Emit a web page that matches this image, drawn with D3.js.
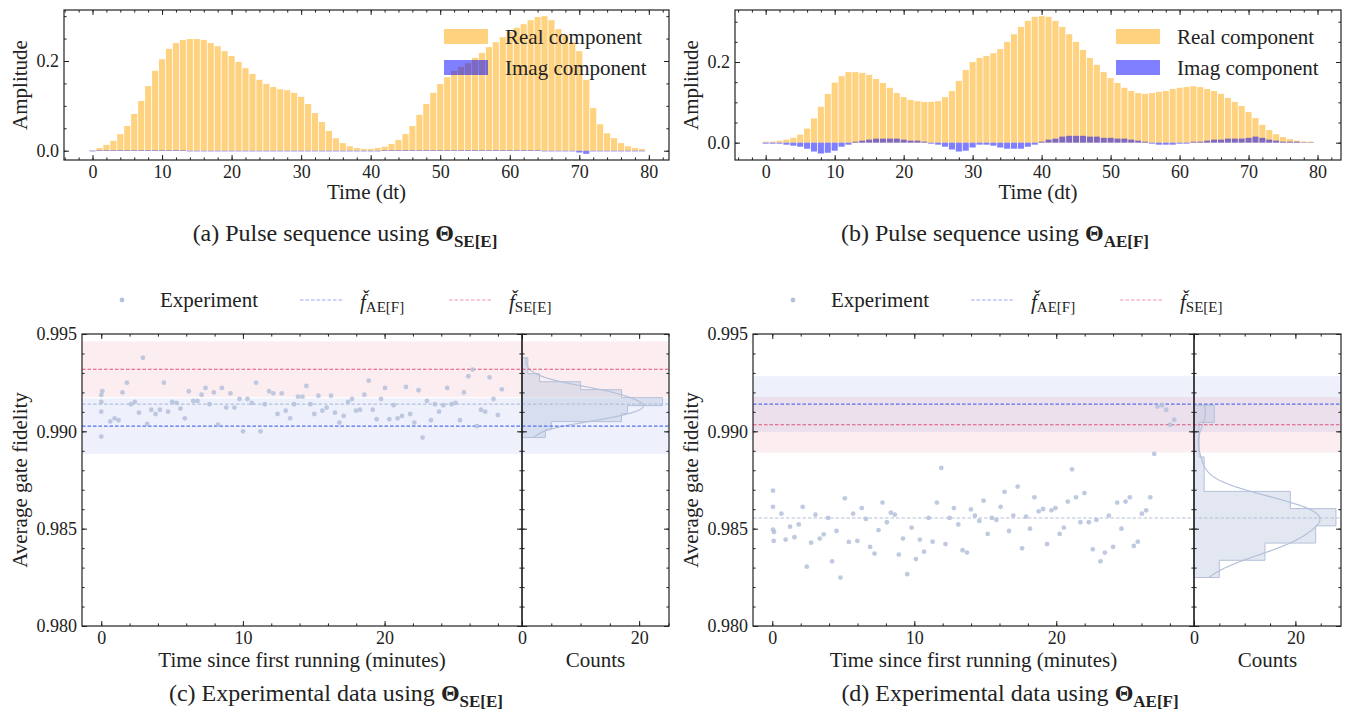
<!DOCTYPE html>
<html>
<head>
<meta charset="utf-8">
<script src="https://cdn.jsdelivr.net/npm/d3@7"></script>
<style>
  body { margin: 0; background: #fff; }
  svg text { font-family: "Liberation Serif", "DejaVu Serif", serif; fill: #222; }
</style>
</head>
<body>
<div id="chart"></div>
<script>
// ---- pulse sequences (amplitude per time step dt) ----
const steps = d3.range(80);

const realA = [0.0015, 0.006, 0.013, 0.022, 0.037, 0.055, 0.082, 0.111, 0.144, 0.178,
  0.204, 0.227, 0.240, 0.247, 0.249, 0.249, 0.247, 0.240, 0.233, 0.222,
  0.211, 0.198, 0.184, 0.171, 0.158, 0.149, 0.142, 0.137, 0.135, 0.129,
  0.120, 0.104, 0.084, 0.064, 0.044, 0.028, 0.017, 0.010, 0.006, 0.004,
  0.004, 0.006, 0.009, 0.015, 0.024, 0.037, 0.055, 0.080, 0.104, 0.129,
  0.149, 0.164, 0.178, 0.187, 0.195, 0.207, 0.218, 0.231, 0.242, 0.253,
  0.265, 0.274, 0.282, 0.291, 0.298, 0.300, 0.291, 0.271, 0.258, 0.242,
  0.222, 0.158, 0.095, 0.059, 0.039, 0.028, 0.017, 0.010, 0.006, 0.004];

const imagA = [-0.0015, 0.0015, 0.0015, 0.0015, 0.0015, 0.0015, 0.0015, 0.0015, 0.0015, 0.0015,
  0.0015, 0.0015, 0.0015, 0.0015, -0.0015, -0.0015, -0.0015, -0.0015, -0.0015, -0.0015,
  -0.0015, -0.0015, -0.0015, -0.0015, -0.0015, -0.0015, -0.0015, -0.0015, -0.0015, -0.0015,
  -0.0015, -0.0015, -0.0015, -0.0015, -0.0015, -0.0015, -0.0015, -0.0015, -0.0015, -0.0015,
  -0.0015, -0.0015, 0.0015, 0.0015, 0.0015, 0.0015, 0.0015, 0.0015, 0.0015, 0.0015,
  0.0015, 0.0015, 0.0015, 0.0015, 0.0015, 0.0015, 0.0015, 0.0015, 0.0015, 0.0015,
  0.0015, 0.0015, 0.0015, 0.0015, 0.0015, -0.0015, -0.0015, -0.0015, -0.0015, -0.0015,
  -0.004, -0.007, -0.0015, -0.0015, -0.0015, -0.0015, -0.0015, -0.0015, -0.0015, -0.0015];

const realB = [0.0025, 0.0025, 0.005, 0.0075, 0.012, 0.020, 0.035, 0.060, 0.089, 0.121,
  0.149, 0.165, 0.175, 0.175, 0.173, 0.168, 0.158, 0.148, 0.136, 0.123,
  0.113, 0.106, 0.103, 0.101, 0.101, 0.103, 0.113, 0.128, 0.153, 0.180,
  0.200, 0.210, 0.215, 0.222, 0.232, 0.250, 0.269, 0.287, 0.302, 0.312,
  0.314, 0.312, 0.302, 0.287, 0.269, 0.250, 0.230, 0.210, 0.193, 0.175,
  0.160, 0.148, 0.136, 0.128, 0.123, 0.121, 0.123, 0.126, 0.128, 0.133,
  0.136, 0.138, 0.140, 0.138, 0.133, 0.128, 0.121, 0.111, 0.101, 0.091,
  0.076, 0.061, 0.044, 0.031, 0.021, 0.014, 0.009, 0.005, 0.003, 0.0025];

const imagB = [-0.0025, -0.0025, -0.0025, -0.005, -0.0075, -0.010, -0.015, -0.022, -0.027, -0.025,
  -0.020, -0.010, -0.005, 0.0025, 0.005, 0.0075, 0.010, 0.010, 0.010, 0.010,
  0.0075, 0.005, 0.005, 0.0025, -0.0025, -0.005, -0.010, -0.017, -0.022, -0.020,
  -0.012, -0.005, -0.005, -0.0075, -0.012, -0.015, -0.015, -0.015, -0.010, -0.005,
  0.0025, 0.0075, 0.010, 0.015, 0.017, 0.017, 0.017, 0.015, 0.015, 0.012,
  0.012, 0.010, 0.010, 0.0075, 0.005, 0.0025, -0.0025, -0.005, -0.005, -0.005,
  -0.0025, -0.0025, 0.0025, 0.0025, 0.005, 0.0075, 0.0075, 0.010, 0.010, 0.010,
  0.012, 0.015, 0.012, 0.0075, 0.005, 0.0025, 0.0025, 0.0025, 0.001, 0.001];

// ---- experiment runs (minutes, average gate fidelity) ----
const timeC = [0, 0.07, 0, 0, 0, 0.63, 0.94, 1.22, 1.50, 1.81, 2.09, 2.37, 2.66, 2.94, 3.24,
  3.53, 3.83, 4.14, 4.42, 4.72, 5.01, 5.31, 5.59, 5.90, 6.18, 6.49, 6.79, 7.08, 7.36, 7.64,
  7.95, 8.23, 8.51, 8.82, 9.12, 9.40, 9.76, 10.01, 10.32, 10.63, 10.93, 11.24, 11.54, 11.85, 12.15,
  12.44, 12.74, 13.02, 13.33, 13.61, 13.89, 14.20, 14.48, 14.76, 15.04, 15.33, 15.61, 15.91, 16.22, 16.50,
  16.81, 17.11, 17.42, 17.70, 17.98, 18.27, 18.57, 18.88, 19.16, 19.44, 19.75, 20.03, 20.33, 20.64, 20.92,
  21.23, 21.51, 21.81, 22.10, 22.40, 22.68, 22.99, 23.27, 23.55, 23.84, 24.14, 24.42, 24.73, 25.01, 25.32,
  25.60, 25.91, 26.21, 26.52, 26.80, 27.10, 27.41, 27.69, 28.00, 28.28];
const fidC = [0.99187, 0.99206, 0.99151, 0.99101, 0.98973,
  0.99051, 0.99067, 0.99057, 0.99200, 0.99250, 0.99139, 0.99151, 0.99096, 0.99378, 0.99038,
  0.99111, 0.99089, 0.99111, 0.99250, 0.99101, 0.99151, 0.99146, 0.99117, 0.99067, 0.99206,
  0.99156, 0.99156, 0.99188, 0.99223, 0.99139, 0.99200, 0.99034, 0.99223, 0.99122, 0.99195,
  0.99122, 0.99166, 0.99000, 0.99166, 0.99146, 0.99250, 0.99000, 0.99139, 0.99206, 0.99195,
  0.99089, 0.99195, 0.99106, 0.99067, 0.99139, 0.99178, 0.99178, 0.99233, 0.99139, 0.99089,
  0.99183, 0.99106, 0.99122, 0.99183, 0.99096, 0.99045, 0.99079, 0.99151, 0.99166, 0.99106,
  0.99111, 0.99188, 0.99260, 0.99111, 0.99062, 0.99166, 0.99223, 0.99062, 0.99134, 0.99067,
  0.99079, 0.99228, 0.99089, 0.99045, 0.99211, 0.98968, 0.99156, 0.99057, 0.99139, 0.99101,
  0.99134, 0.99223, 0.99139, 0.99146, 0.99057, 0.99200, 0.99283, 0.99317, 0.99027, 0.99111,
  0.99101, 0.99277, 0.99166, 0.99084, 0.99216];

const timeD = [0.05, 0.05, 0.05, 0.12, 0.10, 0.64, 0.94, 1.25, 1.56, 1.86,
  2.14, 2.43, 2.73, 3.04, 3.34, 3.62, 3.93, 4.21, 4.52, 4.80,
  5.11, 5.39, 5.69, 5.99, 6.30, 6.59, 6.89, 7.20, 7.48, 7.76,
  8.07, 8.35, 8.63, 8.91, 9.20, 9.50, 9.81, 10.11, 10.39, 10.69,
  11.01, 11.29, 11.59, 11.90, 12.20, 12.49, 12.79, 13.10, 13.40, 13.71,
  13.99, 14.27, 14.58, 14.88, 15.17, 15.47, 15.78, 16.08, 16.36, 16.67,
  16.97, 17.28, 17.59, 17.87, 18.15, 18.46, 18.76, 19.07, 19.35, 19.66,
  19.94, 20.24, 20.53, 20.81, 21.11, 21.39, 21.70, 21.98, 22.29, 22.57,
  22.83, 23.11, 23.42, 23.70, 24.00, 24.29, 24.59, 24.88, 25.18, 25.46,
  25.74, 26.03, 26.33, 26.62, 26.90, 27.13, 27.44, 27.74, 28.02, 28.31];
const fidD = [0.98695, 0.98612, 0.98495, 0.98483, 0.98437, 0.98577, 0.98444, 0.98510, 0.98456, 0.98522,
  0.98612, 0.98305, 0.98428, 0.98572, 0.98449, 0.98471, 0.98555, 0.98332, 0.98488, 0.98249,
  0.98656, 0.98432, 0.98577, 0.98437, 0.98606, 0.98550, 0.98406, 0.98372, 0.98493, 0.98634,
  0.98533, 0.98582, 0.98572, 0.98367, 0.98449, 0.98266, 0.98505, 0.98344, 0.98444, 0.98382,
  0.98555, 0.98433, 0.98634, 0.98812, 0.98421, 0.98555, 0.98606, 0.98522, 0.98389, 0.98377,
  0.98599, 0.98567, 0.98540, 0.98644, 0.98473, 0.98555, 0.98545, 0.98612, 0.98689, 0.98488,
  0.98567, 0.98716, 0.98399, 0.98562, 0.98500, 0.98661, 0.98589, 0.98601, 0.98421, 0.98594,
  0.98606, 0.98473, 0.98505, 0.98639, 0.98805, 0.98661, 0.98533, 0.98683, 0.98533, 0.98394,
  0.98545, 0.98332, 0.98377, 0.98567, 0.98406, 0.98634, 0.98500, 0.98639, 0.98661, 0.98411,
  0.98433, 0.98577, 0.98594, 0.98661, 0.98884, 0.99127, 0.99134, 0.99111, 0.99034, 0.99060];

// histogram counts, 10 equal bins from lowest to highest fidelity
const histC = [4, 5, 17, 18, 24, 17, 10, 3, 1, 1];
const histD = [5, 14, 24, 28, 19, 2, 2, 1, 1, 4];

// predicted fidelities (dashed) and their uncertainty band half width
const aeC = 0.99027, seC = 0.99319, meanC = 0.99140;
const aeD = 0.99140, seD = 0.99034, meanD = 0.98555;
const bandHalf = 0.00143;

// ---- drawing ----
const W = 1346, H = 711;
const INK = "#222";
const ORANGE = "#ffa500", BLUE = "#0000ff";
const PT = "#b4c1da";
const AE_COL = "#5470f0", SE_COL = "#e2507a";
const WORD = 21;
const svg = d3.select("#chart").append("svg").attr("width", W).attr("height", H);

function axis(g, orient, scale, pos, major, minor, fmt) {
  const gen = { bottom: d3.axisBottom, top: d3.axisTop, left: d3.axisLeft, right: d3.axisRight }[orient];
  const tr = (orient === "bottom" || orient === "top") ? `translate(0,${pos})` : `translate(${pos},0)`;
  const mi = g.append("g").attr("transform", tr)
    .call(gen(scale).tickValues(minor).tickSize(-2.6).tickFormat(""));
  mi.select(".domain").remove();
  const ma = g.append("g").attr("transform", tr)
    .call(gen(scale).tickValues(major).tickSize(-5).tickPadding(5).tickFormat(fmt || ""));
  ma.select(".domain").remove();
  [mi, ma].forEach(s => s.attr("font-size", 18).attr("font-family", null).attr("color", INK));
  ma.selectAll("text").attr("fill", INK);
}

function frame(g, x0, x1, y0, y1) {
  g.append("rect").attr("x", x0).attr("y", y0).attr("width", x1 - x0).attr("height", y1 - y0)
    .attr("fill", "none").attr("stroke", INK).attr("stroke-width", 1.2);
}

function label(txt, x, y, rot) {
  return svg.append("text").attr("x", x).attr("y", y).attr("text-anchor", "middle")
    .attr("dominant-baseline", "central").attr("font-size", WORD)
    .attr("transform", rot ? `rotate(-90,${x},${y})` : null).text(txt);
}

function caption(prefix, sub, x, y) {
  const t = svg.append("text").attr("x", x).attr("y", y).attr("text-anchor", "middle").attr("font-size", 24);
  t.append("tspan").text(prefix);
  t.append("tspan").attr("font-weight", "bold").text("\u0398");
  t.append("tspan").attr("font-weight", "bold").attr("font-size", 17).attr("dy", 6).text(sub);
}

function pulsePanel(box, real, imag, xDom, yDom, legX) {
  const g = svg.append("g");
  const x = d3.scaleLinear().domain(xDom).range([box.l, box.r]);
  const y = d3.scaleLinear().domain(yDom).range([box.b, box.t]);
  const bw = x(0.88) - x(0);

  [[real, ORANGE], [imag, BLUE]].forEach(([vals, col]) => {
    g.append("g").selectAll("rect").data(vals).join("rect")
      .attr("x", (d, i) => x(steps[i]) - bw / 2).attr("width", bw)
      .attr("y", d => y(Math.max(0, d))).attr("height", d => Math.abs(y(d) - y(0)))
      .attr("fill", col).attr("fill-opacity", 0.5);
  });

  const xMaj = [0, 10, 20, 30, 40, 50, 60, 70, 80];
  const xMin = d3.range(-4, 84, 2);
  const yMaj = [0, 0.2];
  const yMin = [0, 0.05, 0.1, 0.15, 0.2, 0.25, 0.3];
  axis(g, "bottom", x, box.b, xMaj, xMin, d3.format("d"));
  axis(g, "top", x, box.t, xMaj, xMin, null);
  axis(g, "left", y, box.l, yMaj, yMin, d3.format(".1f"));
  axis(g, "right", y, box.r, yMaj, yMin, null);
  frame(g, box.l, box.r, box.t, box.b);

  // legend
  [["Real component", ORANGE, 29], ["Imag component", BLUE, 60]].forEach(([txt, col, yy]) => {
    g.append("rect").attr("x", legX).attr("y", yy).attr("width", 44).attr("height", 15)
      .attr("fill", col).attr("fill-opacity", 0.5);
    g.append("text").attr("x", legX + 61).attr("y", yy + 8).attr("dominant-baseline", "central")
      .attr("font-size", WORD).text(txt);
  });

  label("Amplitude", box.l - 44, (box.t + box.b) / 2, true);
  label("Time (dt)", (box.l + box.r) / 2, 192);
}

function fcheck(t, sub) {
  t.append("tspan").attr("font-style", "italic").text("f\u030C");
  t.append("tspan").attr("font-size", 15).attr("dy", 5).text(sub);
}

function fidelityPanel(box, times, fids, counts, ae, se, mean, hMax) {
  const g = svg.append("g");
  const x = d3.scaleLinear().domain([-1.36, 29.7]).range([box.l, box.m]);
  const y = d3.scaleLinear().domain([0.980, 0.995]).range([box.b, box.t]);
  const hx = d3.scaleLinear().domain([0, hMax]).range([box.m, box.r]);

  // uncertainty bands across both panes
  [[ae, "#4169e1", 0.09], [se, "#dc143c", 0.08]].forEach(([c, col, op]) => {
    g.append("rect").attr("x", box.l).attr("width", box.r - box.l)
      .attr("y", y(c + bandHalf)).attr("height", y(c - bandHalf) - y(c + bandHalf))
      .attr("fill", col).attr("fill-opacity", op);
  });

  // histogram as a filled step outline
  const [lo, hi] = d3.extent(fids);
  const binW = (hi - lo) / counts.length;
  const stepPts = [[0, lo]];
  counts.forEach((c, i) => { stepPts.push([c, lo + i * binW], [c, lo + (i + 1) * binW]); });
  stepPts.push([0, hi]);
  g.append("path").attr("d", d3.line().x(d => hx(d[0])).y(d => y(d[1]))(stepPts) + "Z")
    .attr("fill", PT).attr("fill-opacity", 0.38).attr("stroke", PT).attr("stroke-width", 1);

  // kernel density (Scott bandwidth) scaled to counts
  const bw = d3.deviation(fids) * Math.pow(fids.length, -0.2);
  const kde = d3.range(201).map(i => {
    const v = lo + (hi - lo) * i / 200;
    const dens = d3.mean(fids, u => Math.exp(-0.5 * ((v - u) / bw) ** 2)) / (bw * Math.sqrt(2 * Math.PI));
    return [dens * fids.length * binW, v];
  });
  g.append("path").attr("d", d3.line().x(d => hx(d[0])).y(d => y(d[1]))(kde))
    .attr("fill", "none").attr("stroke", PT).attr("stroke-width", 1.2);

  // dashed reference lines
  [[ae, AE_COL], [se, SE_COL], [mean, PT]].forEach(([c, col]) => {
    g.append("line").attr("x1", box.l).attr("x2", box.r).attr("y1", y(c)).attr("y2", y(c))
      .attr("stroke", col).attr("stroke-width", 1.1).attr("stroke-dasharray", "3.5,2");
  });

  // scatter
  g.append("g").selectAll("circle").data(fids).join("circle")
    .attr("cx", (d, i) => x(times[i])).attr("cy", d => y(d)).attr("r", 2.4)
    .attr("fill", PT).attr("fill-opacity", 0.85);

  const yMaj = [0.980, 0.985, 0.990, 0.995];
  const yMin = d3.range(0, 16).map(i => 0.980 + i * 0.001);
  const xMaj = [0, 10, 20];
  const xMin = d3.range(0, 30, 2);
  axis(g, "bottom", x, box.b, xMaj, xMin, d3.format("d"));
  axis(g, "top", x, box.t, xMaj, xMin, null);
  axis(g, "left", y, box.l, yMaj, yMin, d3.format(".3f"));
  axis(g, "right", y, box.m, yMaj, yMin, null);
  const hMaj = [0, 20], hMin = d3.range(0, hMax, 5);
  axis(g, "bottom", hx, box.b, hMaj, hMin, d3.format("d"));
  axis(g, "top", hx, box.t, hMaj, hMin, null);
  axis(g, "left", y, box.m, yMaj, yMin, null);
  axis(g, "right", y, box.r, yMaj, yMin, null);
  frame(g, box.l, box.m, box.t, box.b);
  frame(g, box.m, box.r, box.t, box.b);

  // legend above
  const ly = 300, lx = box.l + 40;
  g.append("circle").attr("cx", lx).attr("cy", ly).attr("r", 2.4).attr("fill", PT);
  g.append("text").attr("x", lx + 38).attr("y", ly).attr("dominant-baseline", "central")
    .attr("font-size", WORD).text("Experiment");
  [[AE_COL, "AE[F]", 218], [SE_COL, "SE[E]", 367]].forEach(([col, sub, off]) => {
    g.append("line").attr("x1", box.l + off).attr("x2", box.l + off + 42).attr("y1", ly).attr("y2", ly)
      .attr("stroke", col).attr("stroke-opacity", 0.6).attr("stroke-width", 1.1).attr("stroke-dasharray", "3.5,2");
    const t = g.append("text").attr("x", box.l + off + 60).attr("y", ly + 2).attr("dominant-baseline", "central")
      .attr("font-size", WORD);
    fcheck(t, sub);
  });

  label("Average gate fidelity", box.l - 62, (box.t + box.b) / 2, true);
  label("Time since first running (minutes)", (box.l + box.m) / 2, 660);
  label("Counts", (box.m + box.r) / 2, 660);
}

pulsePanel({ l: 64, r: 669, t: 10, b: 160 }, realA, imagA, [-4.1, 82.9], [-0.0207, 0.3137], 444);
pulsePanel({ l: 735, r: 1341, t: 10, b: 160 }, realB, imagB, [-4.45, 83.4], [-0.043, 0.329], 1116);
caption("(a) Pulse sequence using ", "SE[E]", 345, 241);
caption("(b) Pulse sequence using ", "AE[F]", 995, 241);

fidelityPanel({ l: 82, m: 522, r: 669, t: 334, b: 626 }, timeC, fidC, histC, aeC, seC, meanC, 25.1);
fidelityPanel({ l: 753, m: 1194, r: 1341, t: 334, b: 626 }, timeD, fidD, histD, aeD, seD, meanD, 29);
caption("(c) Experimental data using ", "SE[E]", 336, 701);
caption("(d) Experimental data using ", "AE[F]", 1010, 701);
</script>
</body>
</html>
